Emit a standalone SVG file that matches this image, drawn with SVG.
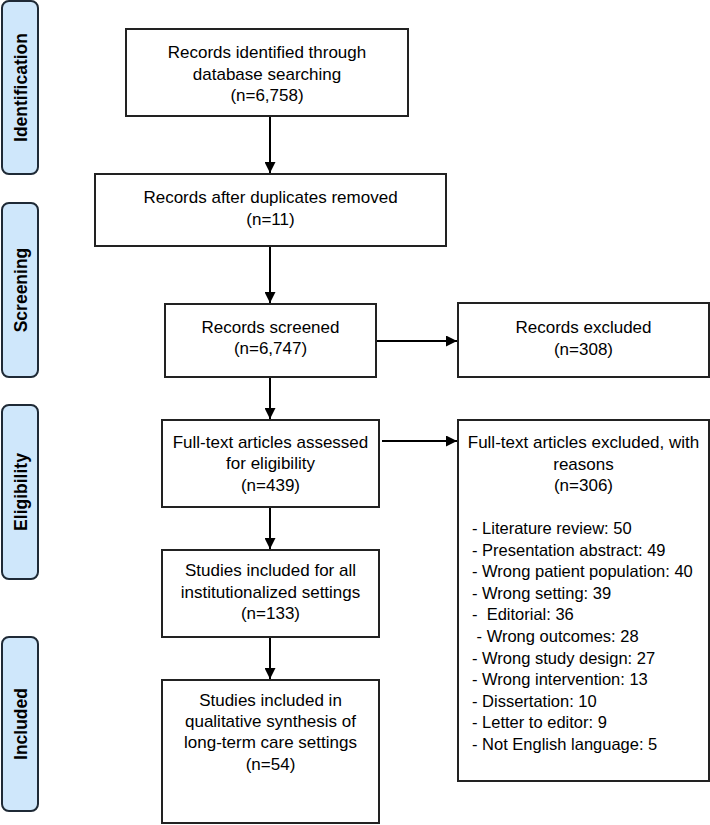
<svg xmlns="http://www.w3.org/2000/svg" width="710" height="825" viewBox="0 0 710 825">
<defs>
<marker id="ah" viewBox="0 0 10 10" refX="10" refY="5" markerWidth="5.5" markerHeight="5.5" orient="auto" markerUnits="strokeWidth">
<path d="M0,0 L10,5 L0,10 z" fill="#000"/>
</marker>
<style>
.phase rect{fill:#cfe7fb;stroke:#1f2a36;stroke-width:2}
.phase text{font-family:"Liberation Sans",Arial,sans-serif;font-weight:bold;font-size:17.5px;fill:#000;text-anchor:middle;dominant-baseline:central}
.box rect{fill:#fff;stroke:#222;stroke-width:2}
.box text{font-family:"Liberation Sans",Arial,sans-serif;font-size:17px;fill:#000;text-anchor:middle}
.box text.l{text-anchor:start;white-space:pre;font-size:16.5px}
.conn line{stroke:#000;stroke-width:2;marker-end:url(#ah)}
</style>
</defs>
<rect width="710" height="825" fill="#fff"/>
<g id="phase-identification" class="phase"><rect x="2" y="1" width="36" height="173" rx="7"/><text transform="translate(21,87.5) rotate(-90)">Identification</text></g>
<g id="phase-screening" class="phase"><rect x="2" y="203" width="36" height="174" rx="7"/><text transform="translate(21,290) rotate(-90)">Screening</text></g>
<g id="phase-eligibility" class="phase"><rect x="2" y="405" width="36" height="174" rx="7"/><text transform="translate(21,492) rotate(-90)">Eligibility</text></g>
<g id="phase-included" class="phase"><rect x="2" y="637" width="36" height="174" rx="7"/><text transform="translate(21,724) rotate(-90)">Included</text></g>

<g id="identified" class="box"><rect x="126" y="29" width="282" height="87"/>
<text x="267" y="58">Records identified through</text><text x="267" y="80">database searching</text><text x="267" y="101">(n=6,758)</text></g>
<g id="duplicates" class="box"><rect x="95" y="174" width="351" height="72"/>
<text x="270.5" y="203">Records after duplicates removed</text><text x="270.5" y="225">(n=11)</text></g>
<g id="screened" class="box"><rect x="165" y="304" width="211" height="73"/>
<text x="270.5" y="333">Records screened</text><text x="270.5" y="354">(n=6,747)</text></g>
<g id="excluded" class="box"><rect x="458" y="303" width="251" height="74"/>
<text x="583.5" y="333">Records excluded</text><text x="583.5" y="355">(n=308)</text></g>
<g id="fulltext" class="box"><rect x="162" y="420" width="217" height="87"/>
<text x="270.5" y="448">Full-text articles assessed</text><text x="270.5" y="469">for eligibility</text><text x="270.5" y="491">(n=439)</text></g>
<g id="fulltext-excluded" class="box"><rect x="458" y="420" width="251" height="361"/>
<text x="583.5" y="448">Full-text articles excluded, with</text><text x="583.5" y="470">reasons</text><text x="583.5" y="491">(n=306)</text>
<text class="l" x="472" y="534">- Literature review: 50</text>
<text class="l" x="472" y="556">- Presentation abstract: 49</text>
<text class="l" x="472" y="577">- Wrong patient population: 40</text>
<text class="l" x="472" y="599">- Wrong setting: 39</text>
<text class="l" x="472" y="620">-  Editorial: 36</text>
<text class="l" x="472" y="642"> - Wrong outcomes: 28</text>
<text class="l" x="472" y="664">- Wrong study design: 27</text>
<text class="l" x="472" y="685">- Wrong intervention: 13</text>
<text class="l" x="472" y="707">- Dissertation: 10</text>
<text class="l" x="472" y="728">- Letter to editor: 9</text>
<text class="l" x="472" y="750">- Not English language: 5</text></g>
<g id="included-all" class="box"><rect x="162" y="550" width="217" height="87"/>
<text x="270.5" y="576">Studies included for all</text><text x="270.5" y="598">institutionalized settings</text><text x="270.5" y="619">(n=133)</text></g>
<g id="included-ltc" class="box"><rect x="162" y="680" width="217" height="143"/>
<text x="270.5" y="706">Studies included in</text><text x="270.5" y="727">qualitative synthesis of</text><text x="270.5" y="748">long-term care settings</text><text x="270.5" y="770">(n=54)</text></g>

<g id="connectors" class="conn">
<line x1="270" y1="117" x2="270" y2="173"/>
<line x1="270" y1="247" x2="270" y2="303"/>
<line x1="377" y1="341" x2="457" y2="341"/>
<line x1="270" y1="378" x2="270" y2="419"/>
<line x1="382" y1="441" x2="457" y2="441"/>
<line x1="270" y1="508" x2="270" y2="549"/>
<line x1="270" y1="638" x2="270" y2="679"/>
</g>
</svg>
